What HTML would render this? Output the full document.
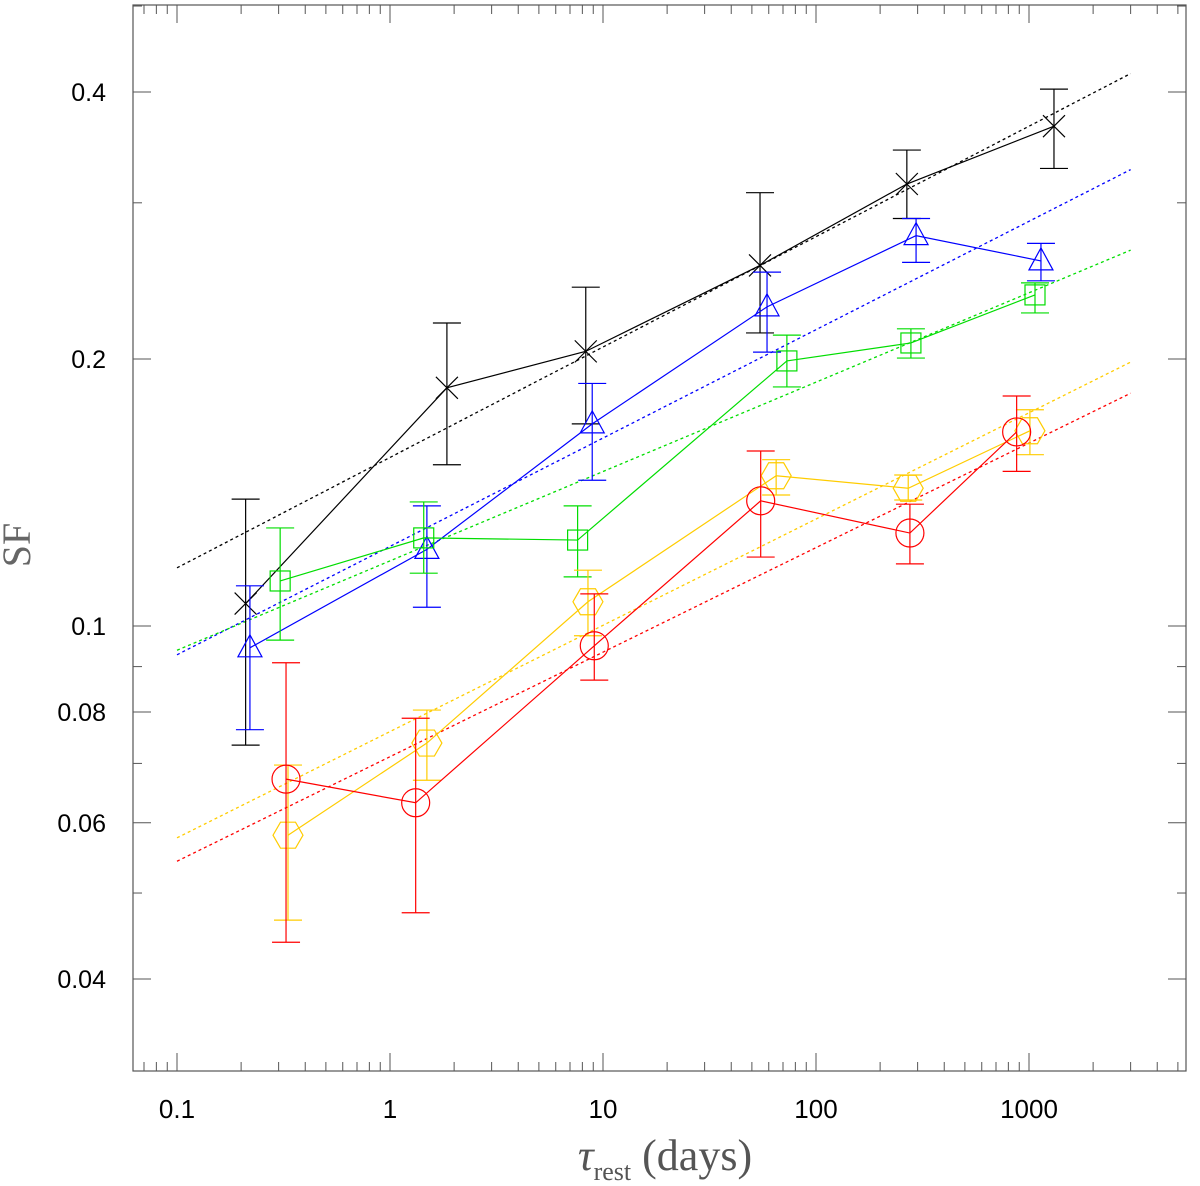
<!DOCTYPE html>
<html><head><meta charset="utf-8"><style>
html,body{margin:0;padding:0;background:#fff;}
svg{display:block;}
</style></head><body>
<svg id="chart" width="1200" height="1186" xmlns="http://www.w3.org/2000/svg">
<rect x="133" y="5" width="1053" height="1066" fill="none" stroke="#555" stroke-width="1.2"/>
<g id="ticks"></g>
<g id="fits"></g>
<g id="series"></g>
<text x="30" y="545" transform="rotate(-90 30 545)" text-anchor="middle" font-family="Liberation Serif, serif" font-size="40" fill="#666">SF</text>
<text x="665" y="1170" text-anchor="middle" font-family="Liberation Serif, serif" font-size="44" fill="#555"><tspan font-style="italic">τ</tspan><tspan font-size="26" dy="10">rest</tspan><tspan dy="-10"> (days)</tspan></text>
</svg>
<script>
const xTickValues=[0.1,1,10,100,1000];
const xTickLabels=["0.1","1","10","100","1000"];
const yTickValues=[0.04,0.06,0.08,0.1,0.2,0.4];
const yTickLabels=["0.04","0.06","0.08","0.1","0.2","0.4"];
const seriesNames=["black","blue","green","yellow","red"];
const seriesColors=["#000000","#0000ff","#00dd00","#ffcc00","#ff0000"];
const seriesMarkers=["x","tri","sq","hex","circ"];
const tauBlack=[0.21,1.85,8.3,54.6,267,1310];
const sfBlack=[0.106,0.1856,0.204,0.255,0.315,0.366];
const hiBlack=[0.139,0.2196,0.241,0.308,0.344,0.403];
const loBlack=[0.0734,0.152,0.169,0.214,0.288,0.328];
const tauBlue=[0.22,1.49,8.9,58.9,295,1138];
const sfBlue=[0.0945,0.122,0.169,0.229,0.2755,0.258];
const hiBlue=[0.111,0.1366,0.1877,0.2506,0.288,0.270];
const loBlue=[0.0764,0.105,0.146,0.2036,0.257,0.245];
const tauGreen=[0.305,1.44,7.6,73,279,1067];
const sfGreen=[0.1124,0.1257,0.125,0.199,0.2085,0.2362];
const hiGreen=[0.129,0.138,0.1366,0.2128,0.2163,0.2437];
const loGreen=[0.0964,0.1147,0.1136,0.186,0.2005,0.2254];
const tauYellow=[0.332,1.49,8.5,65,271,1010];
const sfYellow=[0.0581,0.0738,0.1065,0.1477,0.143,0.166];
const hiYellow=[0.0697,0.0804,0.1156,0.154,0.148,0.1753];
const loYellow=[0.0466,0.067,0.0975,0.1405,0.1387,0.156];
const tauRed=[0.325,1.32,9.1,55,276,875];
const sfRed=[0.0672,0.0632,0.095,0.1384,0.1273,0.1655];
const hiRed=[0.0909,0.0787,0.1087,0.1575,0.1372,0.1817];
const loRed=[0.044,0.0475,0.0869,0.1196,0.1175,0.1494];
const fitTau=[0.1,3000];
const fitBlack=[0.1163,0.4196];
const fitBlue=[0.0928,0.327];
const fitGreen=[0.0939,0.2653];
const fitYellow=[0.0577,0.1984];
const fitRed=[0.0543,0.183];

const NS="http://www.w3.org/2000/svg";
function xs(v){return 390+213*Math.log10(v);}
function ys(v){return 359-887*Math.log10(v/0.2);}
function mk(tag,attrs,parent){const e=document.createElementNS(NS,tag);for(const k in attrs)e.setAttribute(k,attrs[k]);parent.appendChild(e);return e;}
const T=document.getElementById('ticks');
const L=133,R=1186,TOP=5,B=1071;
for(let d=-2;d<=3;d++){for(let m=1;m<=9;m++){const v=m*Math.pow(10,d);const x=xs(v);if(x<L||x>R)continue;const len=m===1?18:9;
 const t1=mk('line',{x1:x,y1:B,x2:x,y2:B-len,stroke:'#555','stroke-width':1},T);
 
 
 const t2=mk('line',{x1:x,y1:TOP,x2:x,y2:TOP+len,stroke:'#555','stroke-width':1},T);
 
 }}
xTickValues.forEach((v,i)=>{const t=mk('text',{x:xs(v),y:1118,'text-anchor':'middle','font-family':'Liberation Sans Narrow, Liberation Sans, sans-serif','font-size':26,fill:'#000'},T);t.textContent=xTickLabels[i];
 
 });
for(let d=-2;d<=-1;d++){for(let m=1;m<=9;m++){const v=m*Math.pow(10,d);const y=ys(v);if(y<TOP||y>B)continue;const major=yTickValues.some(t=>Math.abs(t-v)<1e-9);const len=major?18:9;
 const t1=mk('line',{x1:L,y1:y,x2:L+len,y2:y,stroke:'#555','stroke-width':1},T);
 
 
 const t2=mk('line',{x1:R,y1:y,x2:R-len,y2:y,stroke:'#555','stroke-width':1},T);
 
 }}
yTickValues.forEach((v,i)=>{const t=mk('text',{x:106,y:ys(v)+9,'text-anchor':'end','font-family':'Liberation Sans, sans-serif','font-size':25,fill:'#000'},T);t.textContent=yTickLabels[i];
 
 });
const F=document.getElementById('fits');
[fitBlack,fitBlue,fitGreen,fitYellow,fitRed].forEach((f,i)=>{const l=mk('line',{x1:xs(fitTau[0]),y1:ys(f[0]),x2:xs(fitTau[1]),y2:ys(f[1]),stroke:seriesColors[i],'stroke-width':1.3,'stroke-dasharray':'3,3'},F);
 
 });
const S=document.getElementById('series');
const taus=[tauBlack,tauBlue,tauGreen,tauYellow,tauRed];
const sfs=[sfBlack,sfBlue,sfGreen,sfYellow,sfRed];
const his=[hiBlack,hiBlue,hiGreen,hiYellow,hiRed];
const los=[loBlack,loBlue,loGreen,loYellow,loRed];
taus.forEach((tau,si)=>{const c=seriesColors[si];const g=mk('g',{stroke:c,fill:'none','stroke-width':1.2},S);
 
 
 const pts=tau.map((t,i)=>xs(t)+','+ys(sfs[si][i])).join(' ');
 const pl=mk('polyline',{points:pts},g);
 
 
 tau.forEach((t,i)=>{const x=xs(t),y=ys(sfs[si][i]),yh=ys(his[si][i]),yl=ys(los[si][i]);
  const eb=mk('path',{d:`M${x},${yh}V${yl}M${x-14},${yh}H${x+14}M${x-14},${yl}H${x+14}`},g);
  
  
  let m;const mt=seriesMarkers[si];
  if(mt==='x'){m=mk('path',{d:`M${x-11},${y-11}L${x+11},${y+11}M${x-11},${y+11}L${x+11},${y-11}`},g);}
  else if(mt==='tri'){m=mk('polygon',{points:`${x},${y-13} ${x-12},${y+9} ${x+12},${y+9}`},g);}
  else if(mt==='sq'){m=mk('rect',{x:x-10,y:y-10,width:20,height:20},g);}
  else if(mt==='hex'){let p=[];for(let k=0;k<6;k++){const a=Math.PI/3*k;p.push((x+15*Math.cos(a))+','+(y+15*Math.sin(a)));}m=mk('polygon',{points:p.join(' ')},g);}
  else {m=mk('circle',{cx:x,cy:y,r:14},g);}
  
  
 });
});
</script>
</body></html>
